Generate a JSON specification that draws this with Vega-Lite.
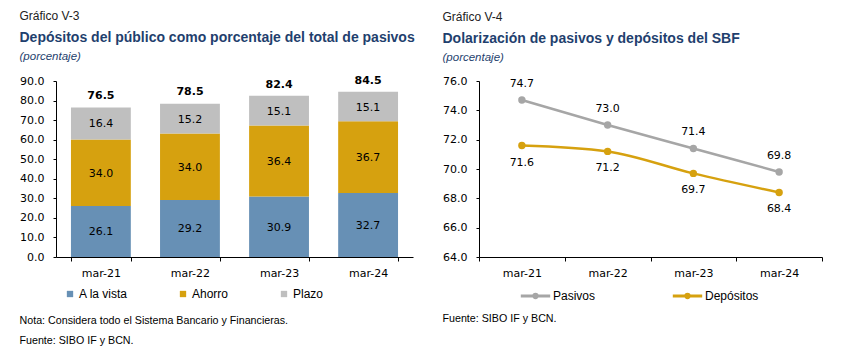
{
  "$schema": "https://vega.github.io/schema/vega-lite/v6.json",
  "padding": {"left": 19, "top": 10, "right": 5, "bottom": 5},
  "background": "#ffffff",
  "spacing": 27,
  "resolve": {"scale": {"color": "independent"}, "legend": {"color": "independent"}},
  "config": {
    "view": {"stroke": null},
    "font": "Liberation Sans",
    "axis": {
      "labelFont": "DejaVu Sans",
      "labelFontSize": 11,
      "labelColor": "#000000",
      "domainColor": "#000000",
      "tickColor": "#000000",
      "tickSize": 3,
      "grid": false,
      "title": null,
      "labelOverlap": false
    },
    "legend": {
      "labelFont": "Liberation Sans",
      "labelFontSize": 12,
      "labelColor": "#000000",
      "title": null
    }
  },
  "hconcat": [
    {
      "title": {"text": "Gráfico V-3", "anchor": "start", "fontSize": 12, "fontWeight": "normal", "color": "#222222", "font": "Liberation Sans", "offset": 8},
      "resolve": {"scale": {"color": "independent"}, "legend": {"color": "independent"}},
      "vconcat": [
        {
          "title": {"text": ["Nota: Considera todo el Sistema Bancario y Financieras.", "Fuente: SIBO IF y BCN."], "orient": "bottom", "anchor": "start", "fontSize": 10.7, "fontWeight": "normal", "color": "#000000", "font": "Liberation Sans", "lineHeight": 20, "offset": 16},
          "resolve": {"scale": {"color": "independent"}, "legend": {"color": "independent"}},
          "vconcat": [
            {
              "title": {"text": "Depósitos del público como porcentaje del total de pasivos", "subtitle": "(porcentaje)", "anchor": "start", "fontSize": 14, "fontWeight": "bold", "color": "#1F3F6E", "font": "Liberation Sans", "subtitleFont": "Liberation Sans", "subtitleFontSize": 11.5, "subtitleFontStyle": "italic", "subtitleColor": "#1F3F6E", "subtitlePadding": 6, "offset": 12},
              "width": 357,
              "height": 176,
              "layer": [
                {
                  "data": {"values": [
                    {"fecha": "mar-21", "tipo": "A la vista", "orden": 1, "valor": 26.1},
                    {"fecha": "mar-21", "tipo": "Ahorro", "orden": 2, "valor": 34.0},
                    {"fecha": "mar-21", "tipo": "Plazo", "orden": 3, "valor": 16.4},
                    {"fecha": "mar-22", "tipo": "A la vista", "orden": 1, "valor": 29.2},
                    {"fecha": "mar-22", "tipo": "Ahorro", "orden": 2, "valor": 34.0},
                    {"fecha": "mar-22", "tipo": "Plazo", "orden": 3, "valor": 15.2},
                    {"fecha": "mar-23", "tipo": "A la vista", "orden": 1, "valor": 30.9},
                    {"fecha": "mar-23", "tipo": "Ahorro", "orden": 2, "valor": 36.4},
                    {"fecha": "mar-23", "tipo": "Plazo", "orden": 3, "valor": 15.1},
                    {"fecha": "mar-24", "tipo": "A la vista", "orden": 1, "valor": 32.7},
                    {"fecha": "mar-24", "tipo": "Ahorro", "orden": 2, "valor": 36.7},
                    {"fecha": "mar-24", "tipo": "Plazo", "orden": 3, "valor": 15.1}
                  ]},
                  "transform": [
                    {"stack": "valor", "groupby": ["fecha"], "sort": [{"field": "orden", "order": "ascending"}], "as": ["v0", "v1"]}
                  ],
                  "layer": [
                    {
                      "mark": {"type": "bar"},
                      "encoding": {
                        "x": {"field": "fecha", "type": "ordinal", "scale": {"type": "band", "paddingInner": 0.328, "paddingOuter": 0.168}, "axis": {"labelAngle": 0, "tickBand": "extent", "labelPadding": 6, "ticks": true, "tickSize": 4}},
                        "y": {"field": "v0", "type": "quantitative", "scale": {"domain": [0, 90]}, "axis": {"values": [0, 10, 20, 30, 40, 50, 60, 70, 80, 90], "format": ".1f", "labelPadding": 9}},
                        "y2": {"field": "v1"},
                        "color": {"field": "tipo", "type": "nominal", "scale": {"domain": ["A la vista", "Ahorro", "Plazo"], "range": ["#6790B5", "#D6A10F", "#BFBFBF"]}, "legend": {"orient": "none", "legendX": 8, "legendY": 207, "direction": "horizontal", "symbolType": "square", "symbolSize": 40, "labelOffset": 3, "columnPadding": 49, "labelFontSize": 12, "padding": 0}}
                      }
                    },
                    {
                      "transform": [{"fold": ["v0", "v1"], "as": ["extremo", "pos"]}],
                      "mark": {"type": "text", "font": "DejaVu Sans", "fontSize": 11, "color": "#000000", "baseline": "middle", "dy": 1},
                      "encoding": {
                        "x": {"field": "fecha", "type": "ordinal"},
                        "y": {"field": "pos", "type": "quantitative", "aggregate": "mean", "axis": {"values": [0, 10, 20, 30, 40, 50, 60, 70, 80, 90], "format": ".1f", "labelPadding": 9}},
                        "detail": {"field": "tipo", "type": "nominal"},
                        "text": {"field": "valor", "type": "quantitative", "format": ".1f"}
                      }
                    }
                  ]
                },
                {
                  "data": {"values": [
                    {"fecha": "mar-21", "total": 76.5},
                    {"fecha": "mar-22", "total": 78.5},
                    {"fecha": "mar-23", "total": 82.4},
                    {"fecha": "mar-24", "total": 84.5}
                  ]},
                  "mark": {"type": "text", "font": "DejaVu Sans", "fontSize": 11, "fontWeight": "bold", "color": "#000000", "baseline": "bottom", "dy": -6},
                  "encoding": {
                    "x": {"field": "fecha", "type": "ordinal"},
                    "y": {"field": "total", "type": "quantitative", "axis": {"values": [0, 10, 20, 30, 40, 50, 60, 70, 80, 90], "format": ".1f", "labelPadding": 9}},
                    "text": {"field": "total", "type": "quantitative", "format": ".1f"}
                  }
                }
              ]
            }
          ]
        }
      ]
    },
    {
      "title": {"text": "Gráfico V-4", "anchor": "start", "fontSize": 12, "fontWeight": "normal", "color": "#222222", "font": "Liberation Sans", "offset": 8},
      "resolve": {"scale": {"color": "independent"}, "legend": {"color": "independent"}},
      "vconcat": [
        {
          "title": {"text": ["Fuente: SIBO IF y BCN."], "orient": "bottom", "anchor": "start", "fontSize": 10.7, "fontWeight": "normal", "color": "#000000", "font": "Liberation Sans", "lineHeight": 20, "offset": 10},
          "resolve": {"scale": {"color": "independent"}, "legend": {"color": "independent"}},
          "vconcat": [
            {
              "title": {"text": "Dolarización de pasivos y depósitos del SBF", "subtitle": "(porcentaje)", "anchor": "start", "fontSize": 14, "fontWeight": "bold", "color": "#1F3F6E", "font": "Liberation Sans", "subtitleFont": "Liberation Sans", "subtitleFontSize": 11.5, "subtitleFontStyle": "italic", "subtitleColor": "#1F3F6E", "subtitlePadding": 6, "offset": 12},
              "width": 343,
              "height": 176,
              "data": {"values": [
                {"fecha": "mar-21", "serie": "Pasivos", "valor": 74.7},
                {"fecha": "mar-22", "serie": "Pasivos", "valor": 73.0},
                {"fecha": "mar-23", "serie": "Pasivos", "valor": 71.4},
                {"fecha": "mar-24", "serie": "Pasivos", "valor": 69.8},
                {"fecha": "mar-21", "serie": "Depósitos", "valor": 71.6},
                {"fecha": "mar-22", "serie": "Depósitos", "valor": 71.2},
                {"fecha": "mar-23", "serie": "Depósitos", "valor": 69.7},
                {"fecha": "mar-24", "serie": "Depósitos", "valor": 68.4}
              ]},
              "encoding": {
                "x": {"field": "fecha", "type": "ordinal", "scale": {"type": "band", "paddingInner": 0, "paddingOuter": 0}, "axis": {"labelAngle": 0, "tickBand": "extent", "labelPadding": 6, "tickSize": 4}},
                "y": {"field": "valor", "type": "quantitative", "scale": {"domain": [64, 76]}, "axis": {"values": [64, 66, 68, 70, 72, 74, 76], "format": ".1f", "labelPadding": 9}}
              },
              "layer": [
                {
                  "mark": {"type": "line", "strokeWidth": 2.5, "interpolate": "monotone"},
                  "encoding": {
                    "color": {"field": "serie", "type": "nominal", "scale": {"domain": ["Pasivos", "Depósitos"], "range": ["#A6A6A6", "#D6A10F"]}, "legend": {"orient": "none", "legendX": 48, "legendY": 206, "direction": "horizontal", "symbolType": "M-2.1,0H2.1M-0.25,0A0.25,0.25,0,1,0,0.25,0A0.25,0.25,0,1,0,-0.25,0", "symbolStrokeWidth": 3, "symbolSize": 196, "labelOffset": 9, "columnPadding": 70, "labelFontSize": 12, "padding": 0}}
                  }
                },
                {
                  "mark": {"type": "point", "filled": true, "size": 55, "opacity": 1},
                  "encoding": {
                    "color": {"field": "serie", "type": "nominal", "legend": null}
                  }
                },
                {
                  "transform": [{"filter": "datum.serie === 'Pasivos'"}],
                  "mark": {"type": "text", "font": "DejaVu Sans", "fontSize": 11, "color": "#000000", "baseline": "middle", "dy": -16},
                  "encoding": {"text": {"field": "valor", "type": "quantitative", "format": ".1f"}}
                },
                {
                  "transform": [{"filter": "datum.serie === 'Depósitos'"}],
                  "mark": {"type": "text", "font": "DejaVu Sans", "fontSize": 11, "color": "#000000", "baseline": "middle", "dy": 17},
                  "encoding": {"text": {"field": "valor", "type": "quantitative", "format": ".1f"}}
                }
              ]
            }
          ]
        }
      ]
    }
  ]
}
